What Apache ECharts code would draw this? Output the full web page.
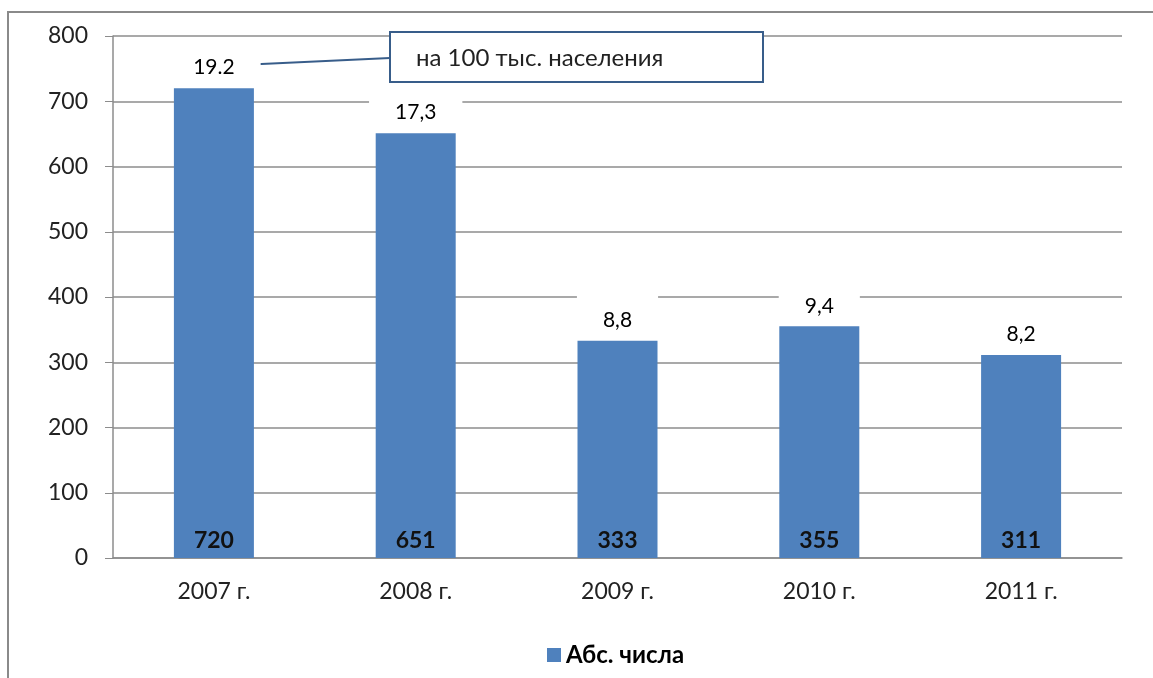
<!DOCTYPE html>
<html>
<head>
<meta charset="utf-8">
<script src="https://cdn.jsdelivr.net/npm/echarts@6/dist/echarts.min.js"></script>
<style>
  html, body { margin: 0; padding: 0; background: #fff; }
  #chart { width: 1153px; height: 678px; }
</style>
</head>
<body>
<div id="chart"></div>
<script>
// data
const years = ['2007 г.', '2008 г.', '2009 г.', '2010 г.', '2011 г.']
const absValues = [720, 651, 333, 355, 311]
const ratePer100k = ['19.2', '17,3', '8,8', '9,4', '8,2']
const yTicks = { min: 0, max: 800, interval: 100 }

const font = 'Lato, "Open Sans", sans-serif'
const gridColor = '#8c8c8c'

const myChart = echarts.init(document.getElementById('chart'))

myChart.setOption({
    animation: false,
    textStyle: { fontFamily: font },
    grid: {
        left: 113,
        right: 31,
        top: 36,
        bottom: 120,
    },
    legend: {
        data: ['Абс. числа'],
        left: 542,
        top: 638,
        icon: 'rect',
        itemWidth: 14,
        itemHeight: 14,
        itemGap: 6,
        textStyle: { fontFamily: font, fontSize: 24, fontWeight: 'bold', color: '#000' }
    },
    xAxis: {
        type: 'category',
        data: years,
        axisLine: { lineStyle: { color: gridColor, width: 1.5 } },
        axisTick: { length: 7, lineStyle: { color: gridColor } },
        axisLabel: { margin: 22, fontSize: 23, color: '#222', fontFamily: font }
    },
    yAxis: {
        type: 'value',
        min: yTicks.min,
        max: yTicks.max,
        interval: yTicks.interval,
        axisLine: { show: true, lineStyle: { color: gridColor, width: 1.5 } },
        axisTick: { show: true, length: 8, lineStyle: { color: gridColor } },
        axisLabel: { margin: 25, fontSize: 23, color: '#222', fontFamily: font },
        splitLine: { lineStyle: { color: gridColor, width: 1.5 } }
    },
    series: [
        {
            name: 'Абс. числа',
            type: 'bar',
            data: absValues,
            barWidth: 80,
            itemStyle: { color: '#4f81bd' },
            label: {
                show: true,
                position: 'insideBottom',
                distance: 6,
                fontSize: 23,
                fontWeight: 'bold',
                color: '#111',
                fontFamily: font
            }
        },
        {
            // rates per 100k, drawn above each bar
            name: 'rate',
            type: 'bar',
            data: absValues,
            barWidth: 80,
            barGap: '-100%',
            z: 5,
            itemStyle: { color: 'rgba(0,0,0,0)' },
            label: {
                show: true,
                position: 'top',
                distance: 8,
                formatter: (p) => ratePer100k[p.dataIndex],
                fontSize: 21,
                color: '#000',
                fontFamily: font,
                backgroundColor: '#fff',
                padding: [16, 26, 2, 26]
            }
        }
    ],
    graphic: [
        {
            type: 'rect',
            z: -10,
            shape: { x: 8, y: 12, width: 1200, height: 700 },
            style: { fill: 'none', stroke: '#8a8a8a', lineWidth: 2 }
        },
        {
            type: 'line',
            z: 1,
            shape: { x1: 240, y1: 65, x2: 390, y2: 58 },
            style: { stroke: '#385d8a', lineWidth: 2 }
        },
        {
            type: 'rect',
            z: 1,
            shape: { x: 390, y: 32, width: 373, height: 50 },
            style: { fill: '#fff', stroke: '#385d8a', lineWidth: 2 }
        },
        {
            type: 'text',
            z: 2,
            x: 416,
            y: 58,
            style: {
                text: 'на 100 тыс. населения',
                fontSize: 24,
                fontFamily: font,
                fill: '#222',
                verticalAlign: 'middle'
            }
        }
    ]
})
</script>
</body>
</html>
